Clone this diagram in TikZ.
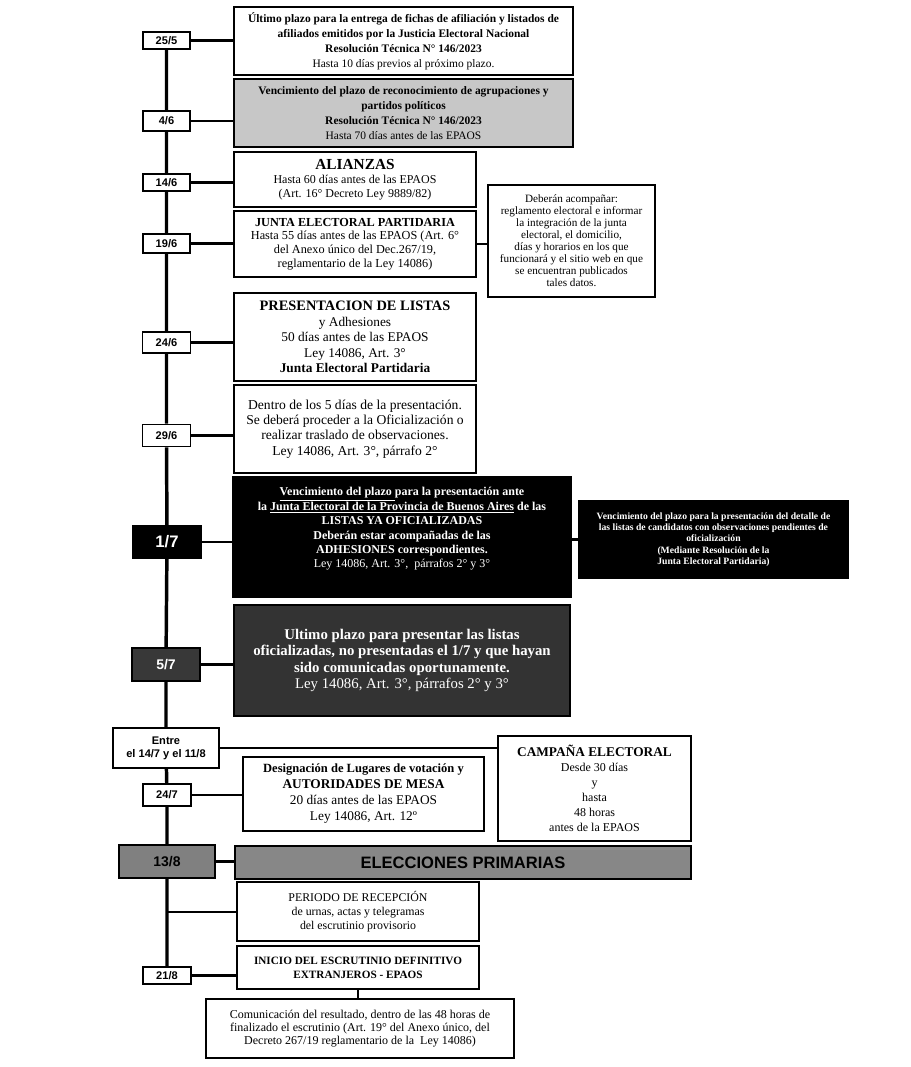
\documentclass[tikz,border=0pt]{standalone}
\usepackage{fontspec}
\setmainfont{Liberation Serif}
\setsansfont{Liberation Sans}

\tikzset{every picture/.style={line width=0.75pt}}
\tikzset{
	wh/.style 2 args={minimum width={#1*0.75pt}, minimum height={#2*0.75pt}},
	caja/.style={draw, line width=1.3pt, fill=white, align=center, inner sep=1pt},
	fecha/.style={draw, line width=1.3pt, fill=white, align=center, inner sep=0pt, font=\sffamily\bfseries\fontsize{8.3}{9.8}\selectfont},
	eje/.style={line width=2.6pt},
	enlace/.style={line width=1.6pt},
}

\begin{document}
\begin{tikzpicture}[x=0.75pt,y=0.75pt,yscale=-1,xscale=1]
	\useasboundingbox (0,0) rectangle (910,1067);

	% Fechas
	\node [fecha, wh={47}{17}] (f2505) at (166.5,40.5) {25/5};
	\node [fecha, wh={47}{20}] (f0406) at (166.5,121) {4/6};
	\node [fecha, wh={47}{17}] (f1406) at (166.5,182.5) {14/6};
	\node [fecha, wh={47}{19}] (f1906) at (166.5,243.5) {19/6};
	\node [fecha, wh={48}{21}] (f2406) at (166.5,342.5) {24/6};
	\node [fecha, wh={48}{22}] (f2906) at (166.5,435.5) {29/6};
	\node [fecha, wh={68}{32}, fill=black, text=white, font=\sffamily\bfseries\fontsize{12.5}{14}\selectfont] (f0107) at (167,542) {1/7};
	\node [fecha, wh={68}{33}, fill=black!78, font=\sffamily\bfseries\fontsize{10.5}{12}\selectfont, text=white] (f0507) at (166,664.5) {5/7};
	\node [fecha, wh={106}{40}] (entre) at (166,748) {Entre\\el 14/7 y el 11/8};
	\node [fecha, wh={48}{22}] (f2407) at (167,795) {24/7};
	\node [fecha, wh={96}{33}, fill=black!50, font=\sffamily\bfseries\fontsize{10.5}{12}\selectfont] (f1308) at (167,861.5) {13/8};
	\node [fecha, wh={48}{17}] (f2108) at (167,975.5) {21/8};
	\coordinate (recep) at (166.5,912);

	% Linea de tiempo
	\draw [eje] (f2505) -- (f0406) -- (f1406) -- (f1906) -- (f2406) -- (f2906) -- (f0107) -- (f0507) -- (entre) -- (f2407) -- (f1308) -- (f2108);

	% Cajas
	\node [caja, wh={339}{68}, font=\fontsize{8.6}{11.2}\selectfont] (ultimo) at (403.5,41) {\textbf{Último plazo para la entrega de fichas de afiliación y listados de}\\\textbf{afiliados emitidos por la Justicia Electoral Nacional}\\\textbf{Resolución Técnica N° 146/2023}\\Hasta 10 días previos al próximo plazo.};
	\node [caja, wh={339}{68}, fill=black!22, font=\fontsize{8.6}{11.2}\selectfont] (vencim) at (403.5,113) {\textbf{Vencimiento del plazo de reconocimiento de agrupaciones y}\\\textbf{partidos políticos}\\\textbf{Resolución Técnica N° 146/2023}\\Hasta 70 días antes de las EPAOS};
	\node [caja, wh={242}{55}, font=\fontsize{9}{10.6}\selectfont] (alianzas) at (355,179.5) {\textbf{\fontsize{11.5}{12}\selectfont ALIANZAS}\\Hasta 60 días antes de las EPAOS\\(Art. 16° Decreto Ley 9889/82)};
	\node [caja, wh={242}{66}, font=\fontsize{9.2}{10.2}\selectfont] (junta) at (355,244) {\textbf{JUNTA ELECTORAL PARTIDARIA}\\Hasta 55 días antes de las EPAOS (Art. 6°\\del Anexo único del Dec.267/19,\\reglamentario de la Ley 14086)};
	\node [caja, wh={167}{112}, font=\fontsize{8.4}{9}\selectfont] (nota) at (571.5,241) {Deberán acompañar:\\reglamento electoral e informar\\la integración de la junta\\electoral, el domicilio,\\días y horarios en los que\\funcionará y el sitio web en que\\se encuentran publicados\\tales datos.};
	\node [caja, wh={242}{88}, font=\fontsize{10}{11.6}\selectfont] (listas) at (355,337) {\textbf{\fontsize{10.8}{12}\selectfont PRESENTACION DE LISTAS}\\y Adhesiones\\50 días antes de las EPAOS\\Ley 14086, Art. 3°\\\textbf{Junta Electoral Partidaria}};
	\node [caja, wh={242}{88}, font=\fontsize{10.2}{11.5}\selectfont] (dentro) at (355,429) {Dentro de los 5 días de la presentación.\\Se deberá proceder a la Oficialización o\\realizar traslado de observaciones.\\Ley 14086, Art. 3°, párrafo 2°};
	\node [caja, wh={338}{120}, fill=black, text=white, font=\fontsize{9}{10.8}\selectfont] (oficial) at (402,537) {\textbf{\underline{Vencimiento del plazo }para la presentación ante}\\\textbf{la \underline{Junta Electoral de la Provincia de Buenos Aires} de las}\\\textbf{LISTAS YA OFICIALIZADAS}\\\textbf{Deberán estar acompañadas de las}\\\textbf{ADHESIONES correspondientes.}\\Ley 14086, Art. 3°,~ párrafos 2° y 3°\\[3pt]};
	\node [caja, wh={269}{77}, fill=black, text=white, font=\bfseries\fontsize{7.25}{8.5}\selectfont] (detalle) at (713.5,539.5) {Vencimiento del plazo para la presentación del detalle de\\las listas de candidatos con observaciones pendientes de\\oficialización\\(Mediante Resolución de la\\Junta Electoral Partidaria)};
	\node [caja, wh={336}{111}, fill=black!80, text=white, font=\fontsize{11.1}{12.4}\selectfont] (ultimas) at (402,660.5) {\textbf{Ultimo plazo para presentar las listas}\\\textbf{oficializadas, no presentadas el 1/7 y que hayan}\\\textbf{sido comunicadas oportunamente.}\\Ley 14086, Art. 3°, párrafos 2° y 3°};
	\node [caja, wh={193}{105}, font=\fontsize{9}{11.3}\selectfont] (campana) at (594.5,788.5) {\textbf{\fontsize{10}{11}\selectfont CAMPAÑA ELECTORAL}\\Desde 30 días\\y\\hasta\\48 horas\\antes de la EPAOS};
	\node [caja, wh={241}{74}, font=\fontsize{10}{12}\selectfont] (lugares) at (363.5,794) {\textbf{\fontsize{9.4}{11}\selectfont Designación de Lugares de votación y}\\\textbf{AUTORIDADES DE MESA}\\20 días antes de las EPAOS\\Ley 14086, Art. 12º};
	\node [caja, wh={456}{33}, fill=black!47, font=\sffamily\bfseries\fontsize{12.4}{13}\selectfont] (primarias) at (463,862.5) {ELECCIONES PRIMARIAS};
	\node [caja, wh={242}{59}, font=\fontsize{8.9}{10.3}\selectfont] (recepcion) at (358,911.5) {PERIODO DE RECEPCIÓN\\de urnas, actas y telegramas\\del escrutinio provisorio};
	\node [caja, wh={242}{43}, font=\bfseries\fontsize{8.4}{10.5}\selectfont] (inicio) at (358,967.5) {INICIO DEL ESCRUTINIO DEFINITIVO\\EXTRANJEROS - EPAOS};
	\node [caja, wh={308}{59}, font=\fontsize{9}{10}\selectfont] (resultado) at (360,1028.5) {Comunicación del resultado, dentro de las 48 horas de\\finalizado el escrutinio (Art. 19° del Anexo único, del\\Decreto 267/19 reglamentario de la~ Ley 14086)};

	% Conexiones
	\draw [enlace] (f2505.east) -- (f2505.east -| ultimo.west);
	\draw [enlace] (f0406.east) -- (f0406.east -| vencim.west);
	\draw [enlace] (f1406.east) -- (f1406.east -| alianzas.west);
	\draw [enlace] (f1906.east) -- (f1906.east -| junta.west);
	\draw [enlace] (junta.east) -- (junta.east -| nota.west);
	\draw [enlace] (f2406.east) -- (f2406.east -| listas.west);
	\draw [enlace] (f2906.east) -- (f2906.east -| dentro.west);
	\draw [enlace] (f0107.east) -- (f0107.east -| oficial.west);
	\draw [enlace] (oficial.east |- detalle.west) -- (detalle.west);
	\draw [enlace] (f0507.east) -- (f0507.east -| ultimas.west);
	\draw [enlace] (entre.east) -- (entre.east -| campana.west);
	\draw [enlace] (f2407.east) -- (f2407.east -| lugares.west);
	\draw [enlace] (f1308.east) -- (f1308.east -| primarias.west);
	\draw [enlace] (recep) -- (recep -| recepcion.west);
	\draw [enlace] (f2108.east) -- (f2108.east -| inicio.west);
	\draw [enlace] (inicio.south) -- (inicio.south |- resultado.north);

\end{tikzpicture}
\end{document}
